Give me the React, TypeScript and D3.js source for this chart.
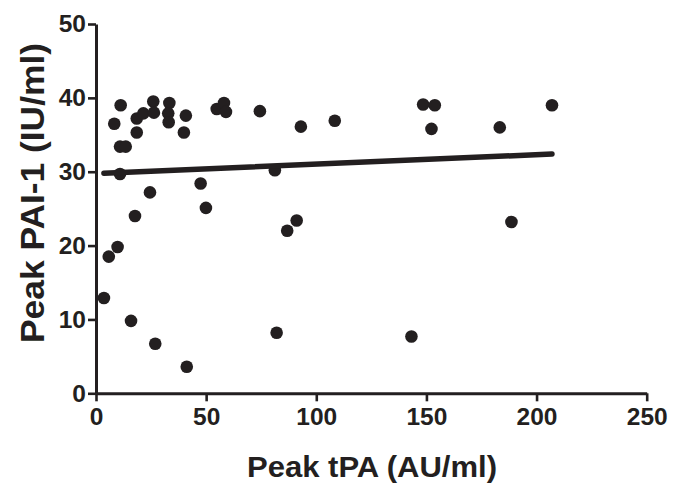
import React, { useEffect, useRef } from 'react';
import * as d3 from 'd3';

// Peak tPA (AU/ml) vs Peak PAI-1 (IU/ml)
const tpa = [
  24.5, 47.5, 17.7, 49.9, 9.8, 5.8, 3.6, 15.9, 26.9, 41.2, 82.0,
  11.2, 8.3, 18.5, 21.5, 26.0, 26.3, 33.3, 32.8, 33.0, 40.8, 18.5, 39.9,
  10.9, 13.5, 10.9, 54.8, 58.1, 59.0, 74.4, 81.2,
  93.0, 108.4, 148.5, 153.8, 152.3, 183.3, 207.0,
  143.2, 91.1, 86.8, 188.6,
];
const pai1 = [
  27.2, 28.4, 24.0, 25.1, 19.8, 18.5, 12.9, 9.8, 6.7, 3.6, 8.2,
  39.0, 36.5, 37.2, 37.9, 39.5, 38.0, 39.3, 37.9, 36.7, 37.6, 35.3, 35.3,
  33.4, 33.4, 29.7, 38.5, 39.3, 38.1, 38.2, 30.2,
  36.1, 36.9, 39.1, 39.0, 35.8, 36.0, 39.0,
  7.7, 23.4, 22.0, 23.2,
];
// fitted line endpoints as drawn
const fitX = [3.6, 207.0];
const fitY = [29.8, 32.4];

const xTicks = [0, 50, 100, 150, 200, 250];
const yTicks = [0, 10, 20, 30, 40, 50];

const W = 673;
const H = 484;
const ink = '#231f20';
const font = '"Liberation Sans", Arial, sans-serif';

const App = () => {
  const xAxisRef = useRef<SVGGElement>(null);
  const yAxisRef = useRef<SVGGElement>(null);

  const x = d3.scaleLinear().domain([0, 250]).range([96, 646.7]);
  const y = d3.scaleLinear().domain([0, 50]).range([393.3, 24]);

  useEffect(() => {
    const style = (g) => {
      g.select('.domain').attr('stroke', ink).attr('stroke-width', 3);
      g.selectAll('.tick line').attr('stroke', ink).attr('stroke-width', 2.6);
      g.selectAll('.tick text')
        .attr('fill', ink)
        .attr('font-family', font)
        .attr('font-weight', 'bold')
        .attr('font-size', 24.5);
    };
    const gx = d3.select(xAxisRef.current);
    gx.call(d3.axisBottom(x).tickValues(xTicks).tickSize(8).tickSizeOuter(0).tickPadding(6).tickFormat(d3.format('d')));
    style(gx);
    const gy = d3.select(yAxisRef.current);
    gy.call(d3.axisLeft(y).tickValues(yTicks).tickSize(8).tickSizeOuter(0).tickPadding(2).tickFormat(d3.format('d')));
    style(gy);
  }, []);

  const line = d3.line<number>()
    .x((d) => x(d))
    .y((_, i) => y(fitY[i]));

  return (
    <svg width={W} height={H} style={{ position: 'absolute', left: 0, top: 0, background: '#fff' }}>
      <g ref={xAxisRef} transform={`translate(0,${y(0)})`} />
      <g ref={yAxisRef} transform={`translate(${x(0)},0)`} />
      {tpa.map((v, i) => (
        <circle key={i} cx={x(v)} cy={y(pai1[i])} r={6.3} fill={ink} />
      ))}
      <path d={line(fitX) || ''} stroke={ink} strokeWidth={5.5} fill="none" strokeLinecap="round" />
      <text
        x={372}
        y={476.7}
        textAnchor="middle"
        fontFamily={font}
        fontWeight="bold"
        fontSize={29}
        textLength={250}
        lengthAdjust="spacingAndGlyphs"
        fill={ink}
      >
        Peak tPA (AU/ml)
      </text>
      <text
        transform="translate(44,193) rotate(-90)"
        textAnchor="middle"
        fontFamily={font}
        fontWeight="bold"
        fontSize={33}
        textLength={300}
        lengthAdjust="spacingAndGlyphs"
        fill={ink}
      >
        Peak PAI-1 (IU/ml)
      </text>
    </svg>
  );
};

export default App;
